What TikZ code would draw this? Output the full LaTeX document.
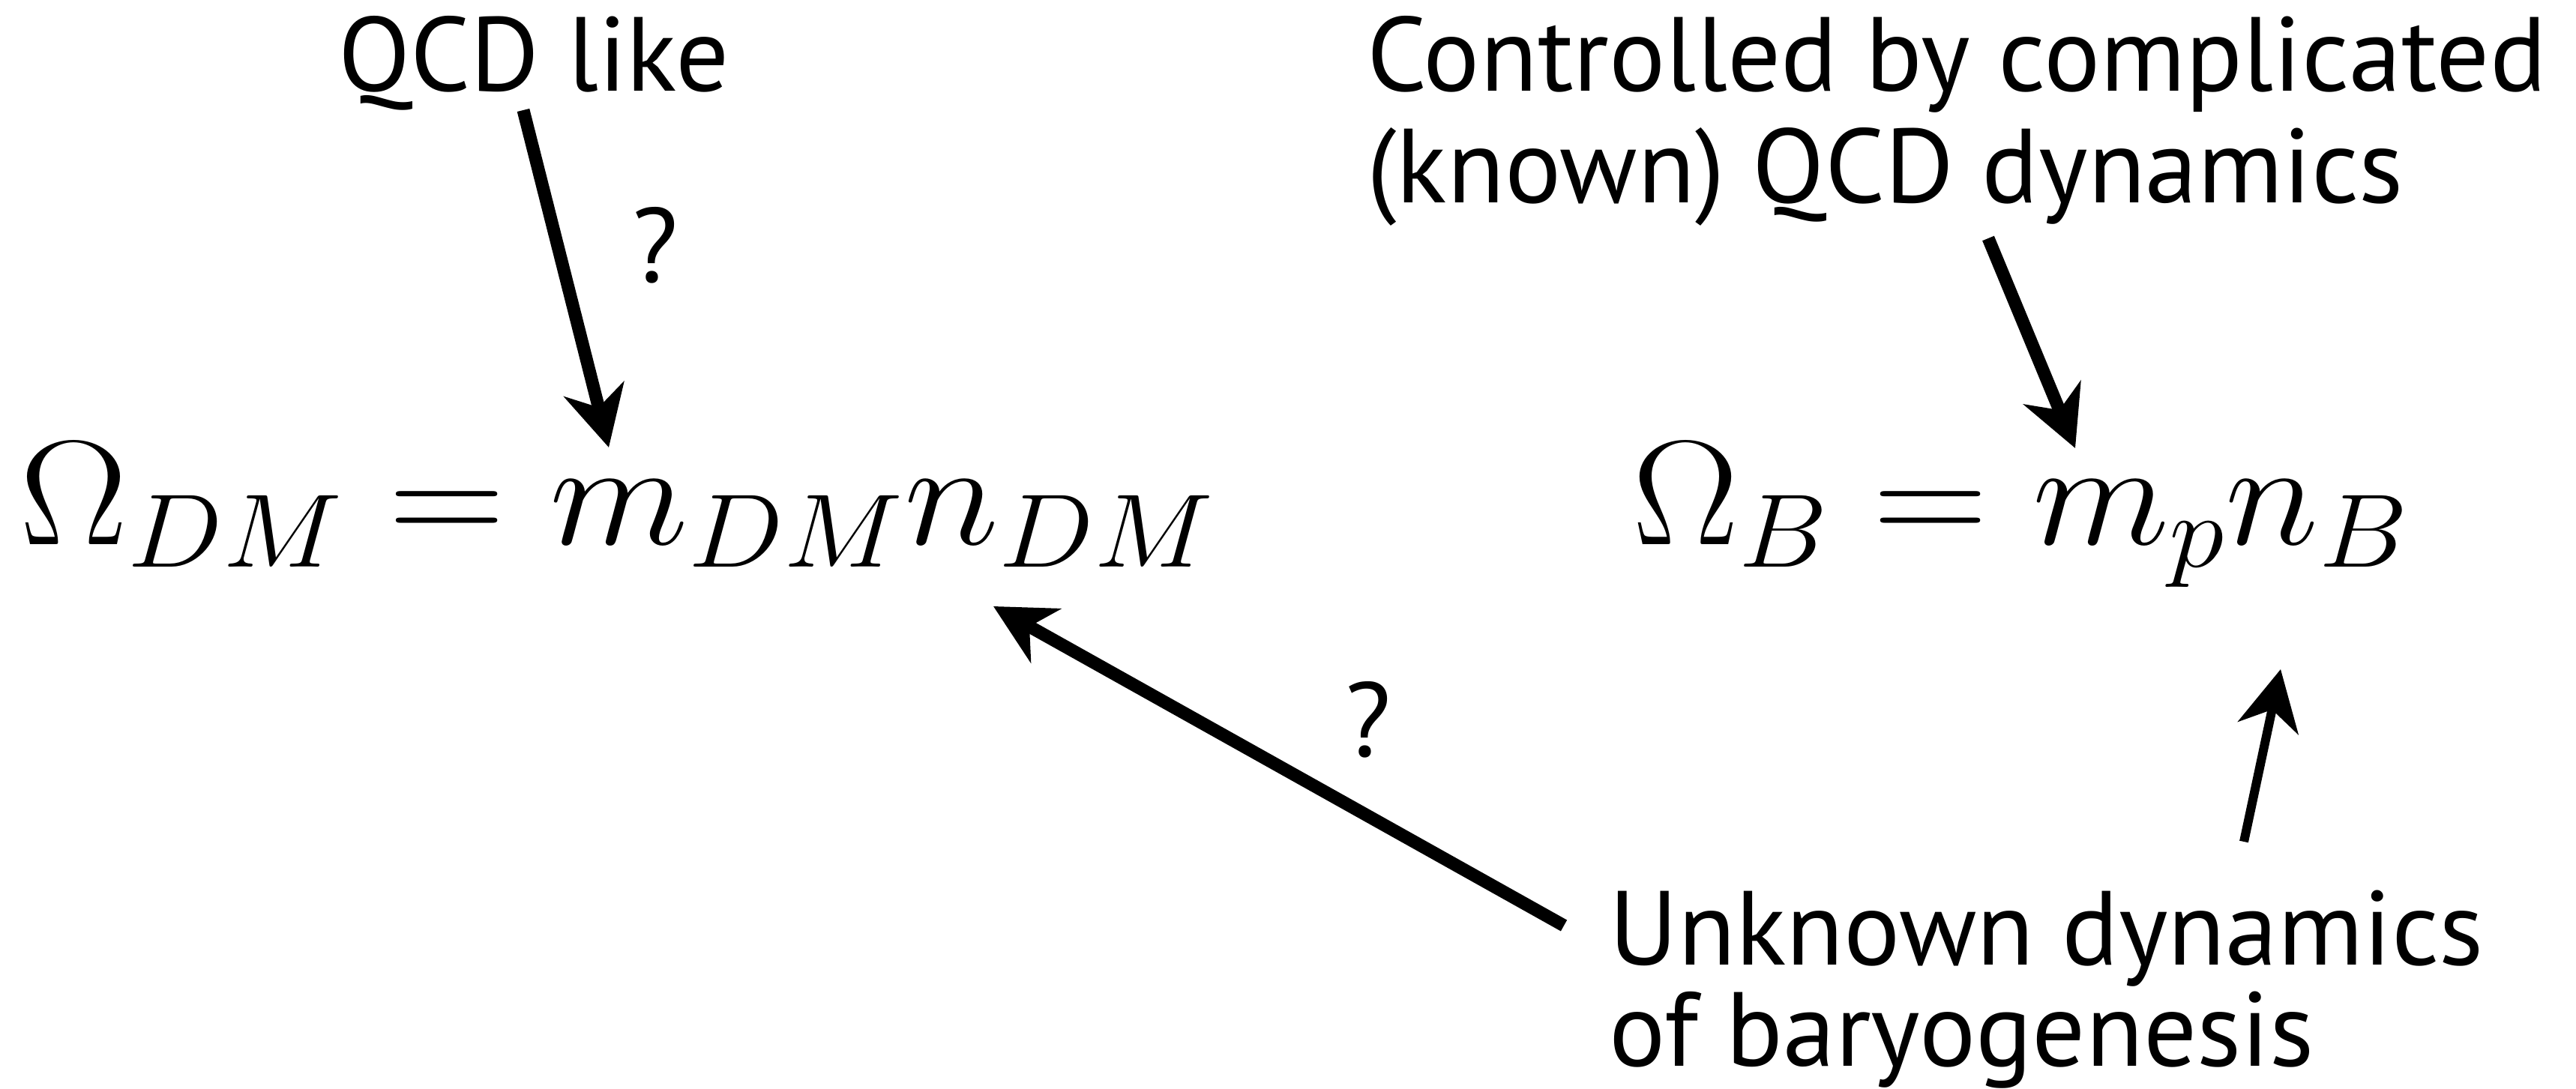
\RequirePackage{fix-cm}
\documentclass[tikz,border=0pt]{standalone}
\usepackage{graphicx}
\usepackage[no-math]{fontspec}
\newfontfamily\labelfont{PT Sans}
\usetikzlibrary{arrows.meta,positioning}

\tikzset{
  lbl/.style={font=\labelfont\fontsize{40}{42.5}\selectfont, inner sep=0pt},
  eqn/.style={font=\fontsize{56.6}{68}\selectfont, inner sep=0pt},
  bigarrow/.style={-{Stealth[length=8mm, width=8.2mm, inset=2.5mm]}, line width=1.7mm},
}

\begin{document}
\begin{tikzpicture}[>=Stealth, thick]
  \useasboundingbox (0,0) rectangle (34.36,14.53);

  % the two relic densities
  \node[eqn, anchor=base west] (omdm) at (0.25,7.26)
    {\scalebox{1.085}[1]{$\Omega_{DM}=m_{DM}n_{DM}$}};
  \node[eqn, anchor=base west] (omb) at (21.76,7.26)
    {\scalebox{1.07}[1]{$\Omega_B=m_pn_B$}};

  % captions (base = last line)
  \node[lbl, anchor=base] (qcd) at (7.12,13.31) {QCD like};
  \node[lbl, anchor=base west, align=left] (known) at (18.22,11.82)
    {Controlled by complicated\\(known) QCD dynamics};
  \node[lbl, anchor=base west, align=left] (unknown) at (21.45,0.30)
    {Unknown dynamics\\[-0.14cm]of baryogenesis};
  \node[lbl] (q1) at (8.74,11.26) {?};
  \node[lbl] (q2) at (18.25,4.93) {?};

  % arrow ends
  \coordinate (mdm) at (8.12,8.56);
  \coordinate (ndm) at (13.25,6.44);
  \coordinate (mp) at (27.68,8.55);
  \coordinate (nb) at (30.42,5.60);
  \coordinate (qcd tail) at (6.98,13.06);
  \coordinate (known tail) at (26.52,11.35);
  \coordinate (bary tail) at (20.86,2.18);
  \coordinate (nb tail) at (29.93,3.30);

  \draw[bigarrow] (qcd tail) -- (mdm);
  \draw[bigarrow] (known tail) -- (mp);
  \draw[bigarrow] (bary tail) -- (ndm);
  \draw[bigarrow, line width=1.2mm] (nb tail) -- (nb);

\end{tikzpicture}
\end{document}
